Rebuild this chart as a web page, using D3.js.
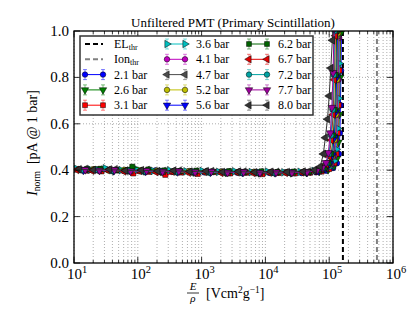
<!DOCTYPE html>
<meta charset="utf-8">
<style>
body { margin: 0; background: #fff; }
svg text { font-family: "Liberation Serif", "Times New Roman", "DejaVu Serif", serif; fill: #000; }
</style>
<svg width="414" height="310" font-family="Liberation Serif, serif"></svg>
<script src="https://d3js.org/d3.v7.min.js"></script>
<script>

// data: E/rho [V cm2 g-1] and normalised current per pressure
var pressures = ["2.1", "2.6", "3.1", "3.6", "4.1", "4.7", "5.2", "5.6", "6.2", "6.7", "7.2", "7.7", "8.0"];
var colors = ["#0000ff", "#007f00", "#ff0000", "#00bfbf", "#bf00bf", "#4d4d4d", "#bfbf00", "#0000ff", "#006400", "#e00000", "#00a3a3", "#9c009c", "#333333"];
var markers = ["o", "v", "s", ">", "o", "<", "o", "v", "s", "<", "o", "v", "<"];
var errBar = 0.008;

var fieldValues = [
  [12, 19, 33, 60, 105, 190, 340, 620, 1100, 2000, 3600, 6500, 1.15e4, 2.1e4, 3.7e4, 6.2e4, 9.0e4, 1.15e5, 1.32e5, 1.42e5, 1.47e5, 1.50e5, 1.53e5, 1.56e5],
  [14, 23, 41, 72, 125, 230, 410, 740, 1350, 2400, 4300, 7800, 1.4e4, 2.5e4, 4.4e4, 7.0e4, 9.6e4, 1.18e5, 1.32e5, 1.39e5, 1.44e5, 1.48e5, 1.51e5],
  [16, 27, 47, 85, 150, 270, 480, 870, 1550, 2800, 5000, 9000, 1.6e4, 2.9e4, 5.0e4, 7.6e4, 1.0e5, 1.2e5, 1.3e5, 1.36e5, 1.41e5, 1.45e5, 1.48e5],
  [11, 18, 31, 55, 98, 175, 315, 570, 1020, 1850, 3300, 6000, 1.08e4, 1.95e4, 3.5e4, 5.8e4, 8.4e4, 1.05e5, 1.2e5, 1.29e5, 1.35e5, 1.40e5, 1.44e5, 1.47e5],
  [13, 21, 37, 66, 118, 210, 375, 680, 1220, 2200, 3900, 7100, 1.27e4, 2.3e4, 4.1e4, 6.6e4, 9.0e4, 1.08e5, 1.2e5, 1.28e5, 1.34e5, 1.39e5, 1.43e5],
  [15, 25, 44, 78, 140, 250, 445, 800, 1430, 2600, 4600, 8300, 1.5e4, 2.7e4, 4.7e4, 7.0e4, 9.0e4, 1.06e5, 1.17e5, 1.25e5, 1.31e5, 1.36e5, 1.40e5],
  [12, 20, 35, 62, 110, 200, 355, 640, 1150, 2080, 3700, 6700, 1.2e4, 2.2e4, 3.9e4, 6.1e4, 8.2e4, 9.9e4, 1.12e5, 1.21e5, 1.28e5, 1.33e5, 1.37e5],
  [14, 24, 42, 74, 132, 235, 420, 760, 1370, 2450, 4400, 7900, 1.42e4, 2.55e4, 4.5e4, 6.8e4, 8.6e4, 1.01e5, 1.12e5, 1.2e5, 1.26e5, 1.31e5, 1.35e5],
  [16, 26, 46, 82, 146, 260, 465, 830, 1500, 2700, 4800, 8700, 1.55e4, 2.8e4, 4.8e4, 6.9e4, 8.5e4, 9.8e4, 1.08e5, 1.16e5, 1.22e5, 1.27e5, 1.31e5],
  [11, 19, 34, 60, 107, 192, 345, 620, 1110, 2000, 3600, 6400, 1.15e4, 2.05e4, 3.7e4, 5.8e4, 7.6e4, 9.0e4, 1.0e5, 1.08e5, 1.15e5, 1.2e5, 1.25e5],
  [13, 22, 39, 70, 124, 222, 398, 715, 1280, 2300, 4100, 7400, 1.33e4, 2.4e4, 4.2e4, 6.2e4, 7.8e4, 9.0e4, 9.9e4, 1.07e5, 1.13e5, 1.18e5, 1.22e5],
  [15, 25, 43, 77, 137, 245, 440, 790, 1420, 2550, 4550, 8200, 1.47e4, 2.6e4, 4.5e4, 6.4e4, 7.8e4, 8.9e4, 9.7e4, 1.04e5, 1.1e5, 1.15e5, 1.19e5],
  [12, 20, 36, 64, 114, 205, 365, 655, 1180, 2120, 3800, 6800, 1.22e4, 2.2e4, 3.9e4, 5.9e4, 7.2e4, 8.1e4, 8.7e4, 9.4e4, 1.0e5, 1.06e5, 1.12e5, 1.16e5]
];

var currentValues = [
  [0.404, 0.401, 0.403, 0.398, 0.396, 0.399, 0.393, 0.395, 0.391, 0.394, 0.390, 0.392, 0.389, 0.391, 0.388, 0.392, 0.398, 0.410, 0.430, 0.470, 0.560, 0.680, 0.830, 1.020],
  [0.402, 0.405, 0.398, 0.401, 0.397, 0.394, 0.396, 0.392, 0.394, 0.390, 0.393, 0.389, 0.391, 0.389, 0.390, 0.395, 0.402, 0.418, 0.450, 0.520, 0.640, 0.800, 0.990],
  [0.398, 0.395, 0.399, 0.386, 0.393, 0.380, 0.390, 0.384, 0.392, 0.386, 0.389, 0.383, 0.388, 0.386, 0.389, 0.394, 0.405, 0.430, 0.470, 0.560, 0.680, 0.830, 1.010],
  [0.406, 0.403, 0.408, 0.400, 0.402, 0.397, 0.399, 0.395, 0.397, 0.393, 0.395, 0.392, 0.394, 0.391, 0.393, 0.397, 0.404, 0.416, 0.440, 0.490, 0.580, 0.710, 0.860, 1.030],
  [0.403, 0.400, 0.402, 0.397, 0.399, 0.395, 0.397, 0.393, 0.395, 0.392, 0.394, 0.390, 0.392, 0.390, 0.393, 0.398, 0.408, 0.425, 0.460, 0.530, 0.640, 0.790, 0.970],
  [0.405, 0.402, 0.404, 0.399, 0.401, 0.396, 0.398, 0.394, 0.396, 0.392, 0.394, 0.391, 0.393, 0.391, 0.394, 0.399, 0.410, 0.430, 0.470, 0.540, 0.650, 0.800, 0.980],
  [0.402, 0.404, 0.399, 0.401, 0.396, 0.398, 0.394, 0.396, 0.392, 0.394, 0.391, 0.393, 0.390, 0.392, 0.391, 0.396, 0.406, 0.424, 0.460, 0.530, 0.640, 0.790, 0.990],
  [0.400, 0.403, 0.398, 0.400, 0.395, 0.397, 0.393, 0.395, 0.391, 0.393, 0.390, 0.392, 0.389, 0.392, 0.391, 0.397, 0.408, 0.428, 0.465, 0.540, 0.650, 0.800, 1.000],
  [0.404, 0.406, 0.401, 0.415, 0.403, 0.399, 0.396, 0.398, 0.394, 0.396, 0.393, 0.395, 0.392, 0.394, 0.393, 0.399, 0.410, 0.430, 0.470, 0.550, 0.660, 0.810, 1.000],
  [0.401, 0.398, 0.400, 0.395, 0.397, 0.392, 0.394, 0.390, 0.393, 0.389, 0.391, 0.388, 0.390, 0.389, 0.391, 0.396, 0.406, 0.425, 0.460, 0.530, 0.640, 0.790, 0.980],
  [0.400, 0.402, 0.397, 0.399, 0.394, 0.396, 0.392, 0.394, 0.390, 0.392, 0.389, 0.391, 0.388, 0.390, 0.391, 0.397, 0.408, 0.430, 0.470, 0.550, 0.660, 0.810, 1.000],
  [0.402, 0.399, 0.401, 0.396, 0.398, 0.394, 0.396, 0.392, 0.394, 0.390, 0.392, 0.389, 0.391, 0.390, 0.392, 0.398, 0.410, 0.432, 0.475, 0.560, 0.670, 0.820, 1.010],
  [0.404, 0.401, 0.403, 0.398, 0.400, 0.396, 0.398, 0.394, 0.396, 0.392, 0.394, 0.391, 0.393, 0.392, 0.394, 0.401, 0.415, 0.470, 0.540, 0.620, 0.720, 0.840, 0.960, 1.040]
];

// thresholds
var elThreshold = 1.64e5;
var ionThreshold = 5.6e5;

var yTicks = [0, 0.2, 0.4, 0.6, 0.8, 1.0];
var xDecades = [1, 2, 3, 4, 5, 6];

var svg = d3.select("svg");

var x = d3.scaleLog().domain([10, 1e6]).range([74, 393]);
var y = d3.scaleLinear().domain([0, 1]).range([263, 31]);

var minorX = [];
for (var d = 1; d < 6; d++) for (var m = 2; m < 10; m++) minorX.push(m * Math.pow(10, d));

svg.append("defs").append("clipPath").attr("id", "clip")
  .append("rect").attr("x", 74).attr("y", 31).attr("width", 319).attr("height", 232);

// grid
var grid = svg.append("g").attr("stroke", "#999").attr("stroke-dasharray", "1,2").attr("stroke-width", 0.8);
grid.selectAll(".gx").data(minorX.concat(xDecades.map(function(e) { return Math.pow(10, e); })))
  .enter().append("line")
    .attr("x1", function(d) { return x(d); }).attr("x2", function(d) { return x(d); })
    .attr("y1", 31).attr("y2", 263);
grid.selectAll(".gy").data(yTicks.slice(1, -1))
  .enter().append("line")
    .attr("y1", function(d) { return y(d); }).attr("y2", function(d) { return y(d); })
    .attr("x1", 74).attr("x2", 393);

// threshold lines
var plot = svg.append("g").attr("clip-path", "url(#clip)");
plot.append("line").attr("x1", x(elThreshold)).attr("x2", x(elThreshold))
  .attr("y1", 31).attr("y2", 263).attr("stroke", "#000").attr("stroke-width", 2).attr("stroke-dasharray", "5,3");
plot.append("line").attr("x1", x(ionThreshold)).attr("x2", x(ionThreshold))
  .attr("y1", 31).attr("y2", 263).attr("stroke", "#808080").attr("stroke-width", 2).attr("stroke-dasharray", "5,3");

function symbolPath(mk, size) {
  var type = d3.symbolCircle, rot = 0;
  if (mk === "s") type = d3.symbolSquare;
  if (mk === "v" || mk === ">" || mk === "<") type = d3.symbolTriangle;
  if (mk === "v") rot = 180;
  if (mk === ">") rot = 90;
  if (mk === "<") rot = -90;
  return { d: d3.symbol().type(type).size(size)(), rot: rot };
}

var line = d3.line().x(function(d) { return x(d[0]); }).y(function(d) { return y(d[1]); });

pressures.forEach(function(p, i) {
  var pts = fieldValues[i].map(function(v, j) { return [v, currentValues[i][j]]; });
  var g = plot.append("g");
  g.append("path").datum(pts).attr("d", line)
    .attr("fill", "none").attr("stroke", colors[i]).attr("stroke-width", 1);
  g.selectAll(".err").data(pts).enter().append("path")
    .attr("d", function(d) {
      var cx = x(d[0]), y0 = y(d[1] - errBar), y1 = y(d[1] + errBar);
      return "M" + cx + "," + y0 + "V" + y1 + "M" + (cx - 2) + "," + y0 + "H" + (cx + 2) + "M" + (cx - 2) + "," + y1 + "H" + (cx + 2);
    })
    .attr("stroke", colors[i]).attr("stroke-opacity", 0.5).attr("fill", "none");
  var s = symbolPath(markers[i], 26);
  g.selectAll(".mk").data(pts).enter().append("path")
    .attr("d", s.d)
    .attr("transform", function(d) { return "translate(" + x(d[0]) + "," + y(d[1]) + ") rotate(" + s.rot + ")"; })
    .attr("fill", colors[i]).attr("stroke", "#000").attr("stroke-width", 0.5);
});

// ticks
var ticks = svg.append("g").attr("stroke", "#000").attr("stroke-width", 0.8);
xDecades.forEach(function(e) {
  var px = x(Math.pow(10, e));
  ticks.append("line").attr("x1", px).attr("x2", px).attr("y1", 263).attr("y2", 257);
  ticks.append("line").attr("x1", px).attr("x2", px).attr("y1", 31).attr("y2", 37);
});
minorX.forEach(function(v) {
  var px = x(v);
  ticks.append("line").attr("x1", px).attr("x2", px).attr("y1", 263).attr("y2", 260);
  ticks.append("line").attr("x1", px).attr("x2", px).attr("y1", 31).attr("y2", 34);
});
yTicks.forEach(function(v) {
  var py = y(v);
  ticks.append("line").attr("x1", 74).attr("x2", 80).attr("y1", py).attr("y2", py);
  ticks.append("line").attr("x1", 393).attr("x2", 387).attr("y1", py).attr("y2", py);
});

// frame
svg.append("rect").attr("x", 74).attr("y", 31).attr("width", 319).attr("height", 232)
  .attr("fill", "none").attr("stroke", "#000").attr("stroke-width", 1.3);

// tick labels
svg.selectAll(".yl").data(yTicks).enter().append("text")
  .attr("x", 69).attr("y", function(d) { return y(d) + 5; })
  .attr("text-anchor", "end").attr("font-size", 15)
  .text(function(d) { return d.toFixed(1); });

xDecades.forEach(function(e) {
  var t = svg.append("text").attr("x", x(Math.pow(10, e)) + 3).attr("y", 279)
    .attr("text-anchor", "middle").attr("font-size", 15);
  t.append("tspan").text("10");
  t.append("tspan").attr("dy", -6).attr("font-size", 10.5).text(e);
});

// title
svg.append("text").attr("x", 233).attr("y", 27).attr("text-anchor", "middle")
  .attr("font-size", 13).text("Unfiltered PMT (Primary Scintillation)");

// y label
var yl = svg.append("text").attr("transform", "translate(37,143) rotate(-90)")
  .attr("text-anchor", "middle").attr("font-size", 14);
yl.append("tspan").attr("font-style", "italic").text("I");
yl.append("tspan").attr("dy", 3).attr("font-size", 9.5).text("norm");
yl.append("tspan").attr("dy", -3).text("\u2002[pA @ 1 bar]");

// x label
svg.append("text").attr("x", 193).attr("y", 290).attr("text-anchor", "middle")
  .attr("font-size", 11).attr("font-style", "italic").text("E");
svg.append("line").attr("x1", 187).attr("x2", 199).attr("y1", 293).attr("y2", 293)
  .attr("stroke", "#000").attr("stroke-width", 0.8);
svg.append("text").attr("x", 193).attr("y", 302).attr("text-anchor", "middle")
  .attr("font-size", 11).attr("font-style", "italic").text("\u03c1");
var xl = svg.append("text").attr("x", 206).attr("y", 298).attr("font-size", 14);
xl.append("tspan").text("[Vcm");
xl.append("tspan").attr("dy", -5).attr("font-size", 9.5).text("2");
xl.append("tspan").attr("dy", 5).text("g");
xl.append("tspan").attr("dy", -5).attr("font-size", 9.5).text("\u22121");
xl.append("tspan").attr("dy", 5).text("]");

// legend
var lg = svg.append("g");
lg.append("rect").attr("x", 80).attr("y", 36).attr("width", 233).attr("height", 79)
  .attr("fill", "#fff").attr("stroke", "#333").attr("stroke-width", 1.5);

var rowY = function(r) { return 44 + r * 15.3; };
var colX = [85, 167, 249];

var entries = [{ label: "EL", sub: "thr", dash: "#000" }, { label: "Ion", sub: "thr", dash: "#808080" }]
  .concat(pressures.map(function(p, i) { return { label: p + " bar", series: i }; }));

entries.forEach(function(en, k) {
  var c = Math.floor(k / 5), r = k % 5;
  var x0 = colX[c], x1 = x0 + 18, cy = rowY(r);
  if (en.dash) {
    lg.append("line").attr("x1", x0).attr("x2", x1).attr("y1", cy).attr("y2", cy)
      .attr("stroke", en.dash).attr("stroke-width", 2).attr("stroke-dasharray", "5,3");
    var t = lg.append("text").attr("x", x0 + 29).attr("y", cy + 4).attr("font-size", 12);
    t.append("tspan").text(en.label);
    t.append("tspan").attr("dy", 2).attr("font-size", 8).text(en.sub);
  } else {
    var i = en.series, s = symbolPath(markers[i], 24);
    lg.append("line").attr("x1", x0).attr("x2", x1).attr("y1", cy).attr("y2", cy)
      .attr("stroke", colors[i]).attr("stroke-width", 1);
    [x0, x1].forEach(function(px) {
      lg.append("path")
        .attr("d", "M" + px + "," + (cy - 5) + "V" + (cy + 5) + "M" + (px - 2) + "," + (cy - 5) + "H" + (px + 2) + "M" + (px - 2) + "," + (cy + 5) + "H" + (px + 2))
        .attr("stroke", colors[i]).attr("stroke-opacity", 0.5).attr("fill", "none");
      lg.append("path").attr("d", s.d)
        .attr("transform", "translate(" + px + "," + cy + ") rotate(" + s.rot + ")")
        .attr("fill", colors[i]).attr("stroke", "#000").attr("stroke-width", 0.5);
    });
    lg.append("text").attr("x", x0 + 29).attr("y", cy + 4).attr("font-size", 12).text(en.label);
  }
});

</script>
